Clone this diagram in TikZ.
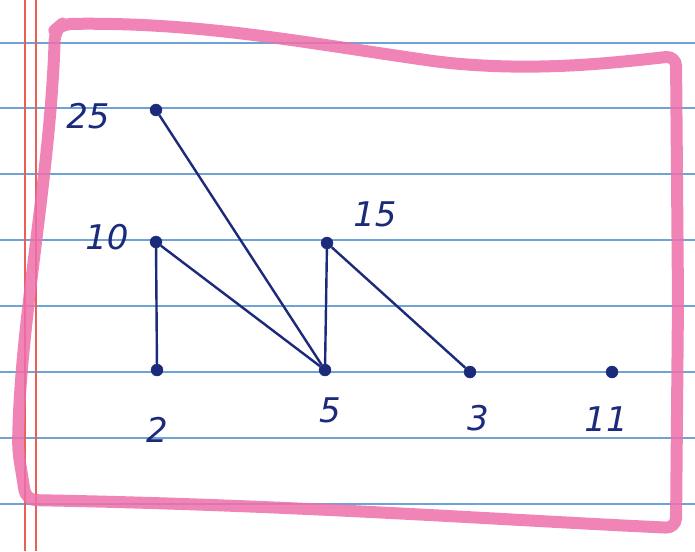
\documentclass[tikz,border=0pt]{standalone}
\usepackage{fontspec}
\setmainfont{DejaVu Sans}
\definecolor{ink}{HTML}{1B2A7A}
\definecolor{rule}{HTML}{6FA3D6}
\definecolor{margin}{HTML}{E8605A}
\definecolor{hilite}{HTML}{EE6FAA}
\tikzset{
  dot/.style={circle,fill=ink,draw=ink,inner sep=0pt,minimum size=12pt},
  edge/.style={draw=ink,line width=2.4pt},
  lbl/.style={text=ink,font=\fontsize{34}{34}\selectfont\itshape,inner sep=0pt},
  ruled/.style={draw=rule,line width=2pt},
  marginline/.style={draw=margin,line width=1.3pt},
  box/.style={draw=hilite,line width=12pt,opacity=0.85,rounded corners=10pt,line join=round}
}
\begin{document}
\begin{tikzpicture}[x=1pt,y=-1pt]
\useasboundingbox (0,0) rectangle (695,551);
\fill[white] (0,0) rectangle (695,551);
% ruled lines
\foreach \yy in {43,108,174,240,306,372,438,504}
  \draw[ruled] (0,\yy) -- (695,\yy);
% margin lines
\draw[marginline] (25,0) -- (25,551);
\draw[marginline] (36,0) -- (36,551);
% pink highlighter box
\draw[box] (62,24) .. controls (200,22) and (300,42) .. (440,62)
  .. controls (540,72) and (620,62) .. (676,56)
  -- (678,300) -- (676,528)
  .. controls (500,520) and (300,505) .. (26,500)
  -- (18,450) .. controls (20,320) and (50,180) .. (55,30) -- cycle;
% vertices
\node[dot] (n25) at (156,110) {};
\node[dot] (n10) at (156,242) {};
\node[dot] (n15) at (327,243) {};
\node[dot] (n2)  at (157,370) {};
\node[dot] (n5)  at (325,370) {};
\node[dot] (n3)  at (470,372) {};
\node[dot] (n11) at (612,372) {};
% labels
\node[lbl] (l25) at (88,116) {25};
\node[lbl] (l10) at (107,237) {10};
\node[lbl] (l15) at (375,214) {15};
\node[lbl] (l2)  at (157,430) {2};
\node[lbl] (l5)  at (330,410) {5};
\node[lbl] (l3)  at (478,418) {3};
\node[lbl] (l11) at (606,419) {11};
% edges
\draw[edge] (n25) -- (n5);
\draw[edge] (n10) -- (n2);
\draw[edge] (n10) -- (n5);
\draw[edge] (n15) -- (n5);
\draw[edge] (n15) -- (n3);
\end{tikzpicture}
\end{document}
